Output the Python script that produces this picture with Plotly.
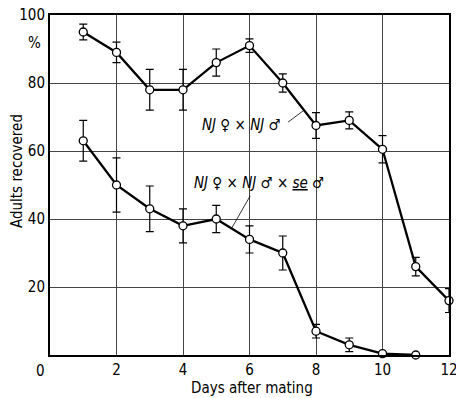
import plotly.graph_objects as go

days = [1, 2, 3, 4, 5, 6, 7, 8, 9, 10, 11, 12]
nj_nj = [95, 89, 78, 78, 86, 91, 80, 67.5, 69, 60.5, 26, 16]
nj_nj_err = [2.3, 3, 6, 6, 4, 2, 2.7, 3.8, 2.5, 4, 2.7, 3.5]

days_se = [1, 2, 3, 4, 5, 6, 7, 8, 9, 10, 11]
nj_se = [63, 50, 43, 38, 40, 34, 30, 7, 3, 0.4, 0]
nj_se_err = [6, 8, 6.7, 5, 4, 4, 5, 2, 2, 0, 0]

xticks = [2, 4, 6, 8, 10, 12]
yticks = [20, 40, 60, 80, 100]

FONT = "DejaVu Sans Condensed, Liberation Sans Narrow, Arial Narrow, sans-serif"

fig = go.Figure()

def add_series(x, y, e):
    fig.add_trace(go.Scatter(
        x=x, y=y, mode="lines+markers",
        line=dict(color="black", width=2.3),
        marker=dict(symbol="circle", size=8, color="white",
                    line=dict(color="black", width=1.3)),
        error_y=dict(type="data", array=e, color="black", thickness=1.2, width=4),
        showlegend=False, cliponaxis=False,
    ))

add_series(days, nj_nj, nj_nj_err)
add_series(days_se, nj_se, nj_se_err)

fig.update_layout(
    width=456, height=398,
    margin=dict(l=50, r=7, t=15, b=43, autoexpand=False),
    paper_bgcolor="white", plot_bgcolor="white",
    font=dict(family=FONT, size=16, color="black"),
    xaxis=dict(range=[0, 12], tickvals=xticks, ticktext=[str(t) for t in xticks],
               tickfont=dict(size=15),
               showgrid=True, gridcolor="#444", gridwidth=0.7,
               showline=True, linecolor="black", linewidth=2, mirror=True,
               ticks="", zeroline=False, automargin=False,
               ticklabeloverflow="allow"),
    yaxis=dict(range=[0, 100], tickvals=yticks, ticktext=[str(t) for t in yticks],
               tickfont=dict(size=15),
               showgrid=True, gridcolor="#444", gridwidth=0.7,
               showline=True, linecolor="black", linewidth=2, mirror=True,
               ticks="", zeroline=False, automargin=False,
               ticklabeloverflow="allow"),
)

annos = [
    dict(x=0, y=0, xref="x", yref="y", text="0", showarrow=False,
         xshift=-10, yshift=-16, font=dict(size=15)),
    dict(x=0, y=100, xref="x", yref="y", text="%", showarrow=False,
         xshift=-16, yshift=-28, font=dict(size=15)),
    dict(x=0.506, y=-0.097, xref="paper", yref="paper", text="Days after mating",
         showarrow=False, font=dict(size=15), yanchor="middle"),
    dict(x=0, y=0.541, xref="paper", yref="paper", text="Adults recovered",
         showarrow=False, textangle=-90, font=dict(size=15), xshift=-33,
         xanchor="center", yanchor="middle"),
    dict(x=5.75, y=67.6, xref="x", yref="y", text="<i>NJ</i> ♀ × <i>NJ</i> ♂",
         showarrow=False, font=dict(size=15)),
    dict(x=6.29, y=50.6, xref="x", yref="y",
         text="<i>NJ</i> ♀ × <i>NJ</i> ♂ × <i><u>se</u></i> ♂",
         showarrow=False, font=dict(size=15)),
]
for a in annos:
    fig.add_annotation(**a)

# leader lines
fig.add_shape(type="line", xref="x", yref="y", x0=7.16, y0=68.5, x1=7.64, y1=72,
              line=dict(color="black", width=0.8))
fig.add_shape(type="line", xref="x", yref="y", x0=6.02, y0=46.8, x1=5.47, y1=37.4,
              line=dict(color="black", width=0.8))

fig.write_html(
    "out.html",
    config={"displayModeBar": False},
    post_script="document.body.style.margin='0';document.body.style.overflow='hidden';",
)
